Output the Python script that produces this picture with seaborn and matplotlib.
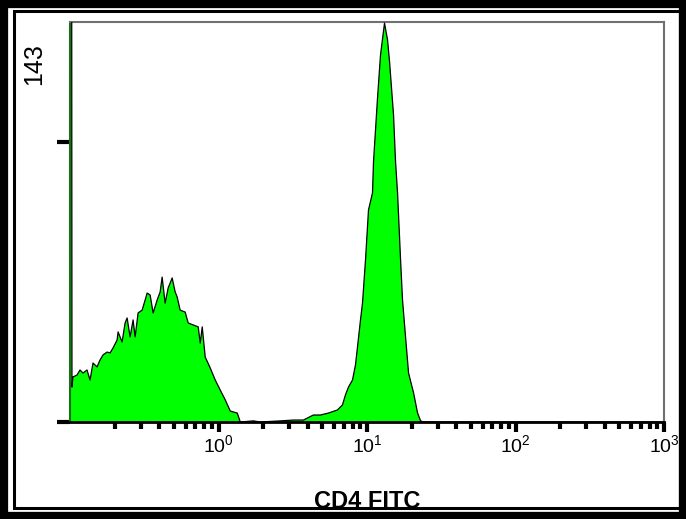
import numpy as np
import matplotlib
matplotlib.use("Agg")
import matplotlib.pyplot as plt
from matplotlib.patches import Rectangle
from matplotlib.ticker import LogLocator, NullFormatter
import seaborn as sns

# CD4 FITC intensity (log scale) and event counts
fitc = [0.1000, 0.1020, 0.1031, 0.1047, 0.1115, 0.1168, 0.1224, 0.1302, 0.1364,
        0.1429, 0.1521, 0.1594, 0.1670, 0.1777, 0.1862, 0.1950, 0.2075, 0.2108,
        0.2243, 0.2350, 0.2424, 0.2539, 0.2660, 0.2745, 0.2875, 0.3059, 0.3206,
        0.3307, 0.3464, 0.3629, 0.3862, 0.4046, 0.4173, 0.4372, 0.4581, 0.4875,
        0.5107, 0.5267, 0.5518, 0.5964, 0.6248, 0.6755, 0.7302, 0.7532, 0.7770,
        0.8141, 0.8800, 0.9508, 1.0276, 1.1108, 1.2003, 1.3380, 1.4018, 1.716,
        1.912, 2.609, 3.193, 3.729, 4.356, 4.857, 5.500, 6.324, 6.834, 7.160,
        7.503, 7.984, 8.364, 8.628, 9.041, 9.326, 9.770, 10.235, 10.89, 11.06,
        11.77, 12.33, 13.12, 13.75, 14.19, 15.09, 15.57, 16.06, 16.83, 17.35,
        18.18, 19.05, 20.59, 21.91, 22.96, 24.05, 100.0, 1000.0]
counts = [400.0, 400.0, 12.5, 16.1, 16.8, 18.6, 17.5, 18.6, 15.0,
          21.1, 19.7, 22.2, 24.0, 25.0, 24.7, 26.5, 29.3, 32.2,
          28.6, 35.4, 37.2, 30.4, 36.5, 30.4, 39.0, 40.0, 43.6,
          46.1, 45.4, 39.0, 43.6, 46.5, 51.8, 42.5, 47.9, 51.5,
          46.5, 44.7, 40.0, 39.3, 35.4, 34.7, 34.0, 28.2, 34.0,
          23.2, 19.3, 15.0, 11.4, 7.9, 3.9, 3.2, 0.0, 0.4,
          0.0, 0.4, 0.7, 0.7, 2.5, 2.5, 3.2, 4.3, 6.1, 9.7,
          12.5, 15.0, 20.4, 26.8, 36.5, 42.5, 57.9, 75.8, 81.9, 93.0,
          115.8, 131.2, 142.6, 136.6, 128.7, 109.8, 93.0, 81.9, 57.9, 43.6,
          30.4, 17.5, 10.4, 3.2, 0.4, 0.0, 0.0, 0.0]

x_ticks = [1, 10, 100, 1000]
x_labels = [r"$10^{0}$", r"$10^{1}$", r"$10^{2}$", r"$10^{3}$"]
y_max = 143

sns.set_style("white")
plt.rcParams["font.family"] = ["Liberation Sans", "DejaVu Sans"]
plt.rcParams["mathtext.default"] = "regular"
plt.rcParams["text.color"] = "black"
plt.rcParams["axes.labelcolor"] = "black"
plt.rcParams["xtick.labelcolor"] = "black"

fig = plt.figure(figsize=(6.86, 5.19), dpi=100)
ax = fig.add_axes([70 / 686, 1 - 422 / 519, 594 / 686, 400 / 519])

ax.set_xscale("log")
ax.fill_between(fitc, counts, color="#00ff00", linewidth=0, zorder=2)
sns.lineplot(x=fitc, y=counts, color="black", linewidth=0.9, ax=ax, zorder=3)

ax.set_xlim(0.1, 1000)
ax.set_ylim(0, y_max)

ax.set_xticks(x_ticks)
ax.set_xticklabels(x_labels, fontsize=14)
ax.xaxis.set_minor_locator(LogLocator(base=10, subs=np.arange(2, 10)))
ax.xaxis.set_minor_formatter(NullFormatter())
ax.tick_params(axis="x", which="major", direction="out", length=7, width=3,
               color="black", pad=2, bottom=True)
ax.tick_params(axis="x", which="minor", direction="out", length=5, width=3,
               color="black", bottom=True)

ax.set_yticks([0, 100])
ax.set_yticklabels([])
ax.tick_params(axis="y", which="major", direction="out", length=9.5, width=3,
               color="black", left=True)

for side in ["top", "right"]:
    ax.spines[side].set_color("#707070")
    ax.spines[side].set_linewidth(1.5)
ax.spines["left"].set_color("#1a6e1a")
ax.spines["left"].set_linewidth(1.5)
ax.spines["bottom"].set_color("black")
ax.spines["bottom"].set_linewidth(2)

ax.set_xlabel("CD4 FITC", fontsize=17, fontweight="bold", labelpad=24)
fig.text(34 / 686, 1 - 64 / 519, "143", rotation=90, fontsize=18,
         ha="center", va="center")

# double black frame round the picture
fig.patches.append(Rectangle((0, 0), 1, 1, transform=fig.transFigure,
                             fill=False, edgecolor="black", linewidth=11, zorder=10))
fig.patches.append(Rectangle((13.5 / 686, 1 - 508 / 519), 666 / 686, 497 / 519,
                             transform=fig.transFigure, fill=False,
                             edgecolor="black", linewidth=2.2, zorder=10))

fig.savefig("out.png", dpi=100)
